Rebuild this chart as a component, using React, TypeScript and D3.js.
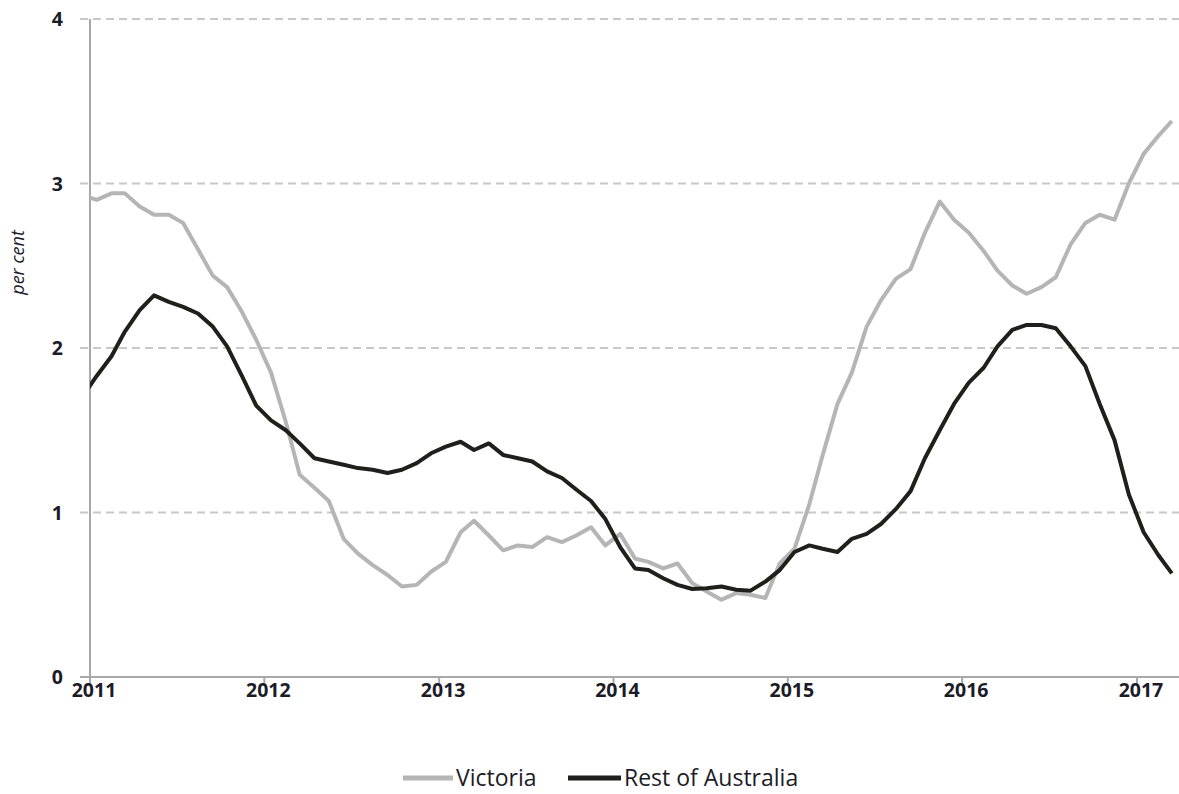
import React, { useRef, useEffect } from "react";
import * as d3 from "d3";

// monthly values, Dec 2010 .. Mar 2017 (per cent)
const victoria = [
  2.93,
  2.9, 2.94, 2.94, 2.86, 2.81, 2.81, 2.76, 2.6, 2.44, 2.37, 2.22, 2.05,
  1.85, 1.55, 1.23, 1.15, 1.07, 0.84, 0.75, 0.68, 0.62, 0.55, 0.56, 0.64,
  0.7, 0.88, 0.95, 0.86, 0.77, 0.8, 0.79, 0.85, 0.82, 0.86, 0.91, 0.8,
  0.87, 0.72, 0.7, 0.66, 0.69, 0.57, 0.52, 0.47, 0.51, 0.5, 0.48, 0.69,
  0.78, 1.05, 1.35, 1.66, 1.85, 2.13, 2.29, 2.42, 2.48, 2.7, 2.89, 2.78,
  2.7, 2.59, 2.47, 2.38, 2.33, 2.37, 2.43, 2.63, 2.76, 2.81, 2.78, 3.0,
  3.18, 3.29, 3.38,
];

const restOfAustralia = [
  1.7,
  1.83, 1.95, 2.1, 2.23, 2.32, 2.28, 2.25, 2.21, 2.13, 2.01, 1.83, 1.65,
  1.56, 1.5, 1.42, 1.33, 1.31, 1.29, 1.27, 1.26, 1.24, 1.26, 1.3, 1.36,
  1.4, 1.43, 1.38, 1.42, 1.35, 1.33, 1.31, 1.25, 1.21, 1.14, 1.07, 0.96,
  0.79, 0.66, 0.65, 0.6, 0.56, 0.535, 0.54, 0.55, 0.53, 0.525, 0.58, 0.65,
  0.76, 0.8, 0.78, 0.76, 0.84, 0.87, 0.93, 1.02, 1.13, 1.33, 1.5, 1.66,
  1.79, 1.88, 2.01, 2.11, 2.14, 2.14, 2.12, 2.01, 1.89, 1.66, 1.44, 1.11,
  0.88, 0.74, 0.63,
];

const yearTicks = [2011, 2012, 2013, 2014, 2015, 2016, 2017];
const valueTicks = [0, 1, 2, 3, 4];

const series = [
  { name: "Victoria", values: victoria, color: "#b5b5b5" },
  { name: "Rest of Australia", values: restOfAustralia, color: "#1f1f1b" },
];

const FONT = "'Open Sans', Lato, sans-serif";
const TEXT = "#1c1c28";

const App = () => {
  const svgRef = useRef(null);

  useEffect(() => {
    const width = 1179;
    const height = 794;
    const left = 90;
    const right = 1179;
    const top = 19;
    const bottom = 677;

    const svg = d3.select(svgRef.current);
    svg.selectAll("*").remove();

    // mid-month dates
    const months = d3
      .timeMonth.range(new Date(2010, 11, 1), new Date(2017, 3, 1))
      .map((d) => new Date(d.getFullYear(), d.getMonth(), 15));

    const x = d3
      .scaleTime()
      .domain([new Date(2011, 0, 1), new Date(2017, 2, 30)])
      .range([left, right]);

    const y = d3.scaleLinear().domain([0, 4]).range([bottom, top]);

    svg
      .append("defs")
      .append("clipPath")
      .attr("id", "plot-clip")
      .append("rect")
      .attr("x", left)
      .attr("y", 0)
      .attr("width", right - left)
      .attr("height", height);

    // GRID
    svg
      .append("g")
      .selectAll("line")
      .data(valueTicks.filter((v) => v > 0))
      .join("line")
      .attr("x1", left - 10)
      .attr("x2", right)
      .attr("y1", (d) => y(d))
      .attr("y2", (d) => y(d))
      .attr("stroke", "#c8c8c8")
      .attr("stroke-width", 2)
      .attr("stroke-dasharray", "8 5");

    // Y AXIS
    svg
      .append("line")
      .attr("x1", left)
      .attr("x2", left)
      .attr("y1", y(4))
      .attr("y2", y(0))
      .attr("stroke", "#a8a8a8")
      .attr("stroke-width", 2);

    // X AXIS
    svg
      .append("line")
      .attr("x1", left - 10)
      .attr("x2", right)
      .attr("y1", y(0))
      .attr("y2", y(0))
      .attr("stroke", "#a8a8a8")
      .attr("stroke-width", 2);

    svg
      .append("g")
      .selectAll("line")
      .data(yearTicks)
      .join("line")
      .attr("x1", (d) => x(new Date(d, 0, 1)))
      .attr("x2", (d) => x(new Date(d, 0, 1)))
      .attr("y1", y(0))
      .attr("y2", y(0) + 9)
      .attr("stroke", "#a8a8a8")
      .attr("stroke-width", 2);

    svg
      .append("g")
      .selectAll("text")
      .data(yearTicks)
      .join("text")
      .attr("x", (d) => x(new Date(d, 0, 1)) + 4)
      .attr("y", y(0) + 20)
      .attr("text-anchor", "middle")
      .attr("font-family", FONT)
      .attr("font-weight", "bold")
      .attr("font-size", 19.5)
      .attr("fill", TEXT)
      .text((d) => d);

    svg
      .append("g")
      .selectAll("text")
      .data(valueTicks)
      .join("text")
      .attr("x", 63)
      .attr("y", (d) => y(d))
      .attr("dy", "0.36em")
      .attr("text-anchor", "end")
      .attr("font-family", FONT)
      .attr("font-weight", "bold")
      .attr("font-size", 19.5)
      .attr("fill", TEXT)
      .text((d) => d);

    svg
      .append("text")
      .attr("transform", `translate(24,${y(2.52)}) rotate(-90)`)
      .attr("text-anchor", "middle")
      .attr("font-family", FONT)
      .attr("font-style", "italic")
      .attr("font-size", 18)
      .attr("fill", TEXT)
      .text("per cent");

    // LINES
    const line = d3
      .line()
      .x((d, i) => x(months[i]))
      .y((d) => y(d));

    svg
      .append("g")
      .attr("clip-path", "url(#plot-clip)")
      .selectAll("path")
      .data(series)
      .join("path")
      .attr("d", (s) => line(s.values))
      .attr("fill", "none")
      .attr("stroke", (s) => s.color)
      .attr("stroke-width", 4)
      .attr("stroke-linejoin", "round");

    // LEGEND
    const legendY = 778;
    const legend = [
      { ...series[0], x1: 403, x2: 453 },
      { ...series[1], x1: 568, x2: 621 },
    ];
    const lg = svg.append("g");
    lg.selectAll("line")
      .data(legend)
      .join("line")
      .attr("x1", (d) => d.x1)
      .attr("x2", (d) => d.x2)
      .attr("y1", legendY)
      .attr("y2", legendY)
      .attr("stroke", (d) => d.color)
      .attr("stroke-width", 5);
    lg.selectAll("text")
      .data(legend)
      .join("text")
      .attr("x", (d) => d.x2 + 3)
      .attr("y", legendY)
      .attr("dy", "0.35em")
      .attr("font-family", FONT)
      .attr("font-size", 23)
      .attr("fill", TEXT)
      .text((d) => d.name);

    svg.attr("width", width).attr("height", height);
  }, []);

  return (
    <svg
      ref={svgRef}
      style={{ position: "absolute", left: 0, top: 0, background: "#fff" }}
    ></svg>
  );
};

export default App;
